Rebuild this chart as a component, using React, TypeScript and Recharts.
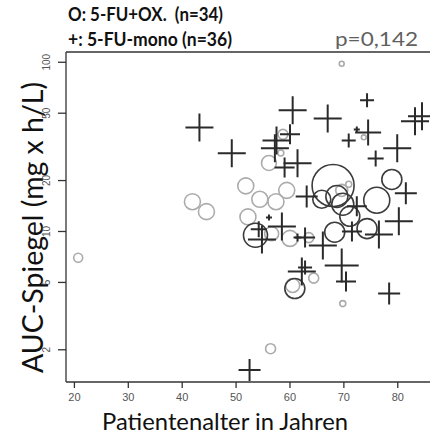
import React from 'react';
import { ScatterChart, Scatter, XAxis, YAxis, ZAxis, ReferenceLine, Customized } from 'recharts';

// 5-FU + OX (circles): age, AUC, bubble value, shade group (0 light, 1 dark)
const oxAge = [69.6, 58.7, 58.3, 56.1, 73.7, 51.8, 41.9, 44.5, 54.4, 57.4, 59.4, 52.2, 56.6, 60.0, 63.5, 64.4, 60.5, 69.8, 56.4, 20.7, 70.9, 69.6,
  68.0, 65.9, 68.7, 69.8, 71.1, 74.3, 68.3, 76.1, 78.9, 53.6, 60.9];
const oxAuc = [98, 37.5, 29.1, 25.4, 36.0, 18.6, 15.0, 13.1, 15.5, 15.0, 17.5, 12.2, 9.7, 9.1, 9.2, 5.3, 4.8, 3.75, 2.03, 7.0, 19.0, 17.5,
  18.7, 15.5, 16.1, 14.5, 12.3, 10.4, 9.9, 15.3, 20.3, 9.5, 4.6];
const oxValue = [6, 25, 9, 56, 6, 64, 64, 64, 64, 64, 64, 64, 49, 64, 25, 25, 49, 9, 25, 20, 9, 36,
  441, 81, 121, 121, 100, 100, 100, 169, 100, 144, 100];
const oxGroup = [0, 0, 0, 0, 0, 0, 0, 0, 0, 0, 0, 0, 0, 0, 0, 0, 0, 0, 0, 0, 0, 0,
  1, 1, 1, 1, 1, 1, 1, 1, 1, 1, 1];

// 5-FU mono (plus signs)
const monoAge = [43.2, 49.2, 60.5, 67.0, 74.3, 83.2, 84.5, 74.5, 72.4, 70.9, 79.9, 75.9, 81.5, 57.5, 57.2, 60.0, 61.4, 59.0, 63.1, 72.4,
  80.2, 76.5, 71.5, 66.1, 62.8, 61.4, 58.5, 56.1, 54.8, 54.2, 69.6, 70.4, 62.2, 62.8, 78.4, 52.5];
const monoAuc = [41.2, 29.0, 52.0, 46.6, 59.6, 44.8, 47.9, 38.5, 40.1, 34.5, 31.0, 27.0, 16.8, 34.5, 31.0, 37.5, 25.3, 23.9, 16.1, 14.1,
  11.5, 9.6, 10.0, 8.26, 9.21, 9.2, 10.7, 12.1, 8.97, 10.3, 6.29, 5.06, 5.8, 6.12, 4.3, 1.52];
const monoValue = [196, 196, 196, 196, 49, 196, 196, 169, 9, 49, 196, 64, 121, 196, 196, 100, 196, 100, 121, 100,
  196, 196, 100, 196, 100, 16, 196, 9, 196, 64, 289, 100, 196, 49, 121, 121];

const xTicks = [20, 30, 40, 50, 60, 70, 80];
const yTicks = [2, 5, 10, 20, 50, 100];

const oxData = oxAge.map((x, i) => ({ x, y: oxAuc[i], z: oxValue[i], g: oxGroup[i] }));
const monoData = monoAge.map((x, i) => ({ x, y: monoAuc[i], z: monoValue[i] }));

const radiusOf = (p: any) => (p.size != null ? Math.sqrt(p.size / Math.PI) : (p.width || 0) / 2);

const CircleShape = (p: any) => {
  const r = radiusOf(p);
  return (
    <circle cx={p.cx} cy={p.cy} r={r} fill="none"
      stroke={p.payload && p.payload.g ? '#3c3c3c' : '#ababab'} strokeWidth={1.6} />
  );
};

const PlusShape = (p: any) => {
  const h = radiusOf(p);
  const { cx, cy } = p;
  return <path d={`M${cx - h},${cy}H${cx + h}M${cx},${cy - h}V${cy + h}`} stroke="#2a2a2a" strokeWidth={2} fill="none" />;
};

const XTick = (p: any) => (
  <text x={p.x} y={p.y + 11} textAnchor="middle" fontFamily="Liberation Sans, Arial, sans-serif" fontSize={11} fill="#555">
    {p.payload.value}
  </text>
);

const YTick = (p: any) => {
  const bx = p.x - 6;
  return (
    <text x={bx} y={p.y} transform={`rotate(-90, ${bx}, ${p.y})`} textAnchor="middle"
      fontFamily="Liberation Sans, Arial, sans-serif" fontSize={10} fill="#555">
      {p.payload.value}
    </text>
  );
};

const Texts = () => (
  <g fontFamily="Lato, 'Open Sans', sans-serif" style={{ whiteSpace: 'pre' }}>
    <text x={68} y={21} fontSize={18} fontWeight="bold" fill="#111" textLength={155} lengthAdjust="spacingAndGlyphs">{'O: 5-FU+OX.\u00a0 (n=34)'}</text>
    <text x={68} y={46} fontSize={18} fontWeight="bold" fill="#111" textLength={164} lengthAdjust="spacingAndGlyphs">+: 5-FU-mono (n=36)</text>
    <text x={418} y={46} fontSize={19} fill="#606060" textAnchor="end" textLength={83} lengthAdjust="spacingAndGlyphs">p=0,142</text>
    <text x={225} y={430} fontSize={23} fill="#111" textAnchor="middle" textLength={246} lengthAdjust="spacingAndGlyphs">Patientenalter in Jahren</text>
    <text x={43} y={227.5} fontSize={28} fill="#111" textAnchor="middle" transform="rotate(-90, 43, 227.5)" textLength={291} lengthAdjust="spacingAndGlyphs">AUC-Spiegel (mg x h/L)</text>
  </g>
);

export default function App() {
  return (
    <div style={{ position: 'absolute', left: 0, top: 0, width: 430, height: 436, overflow: 'hidden', background: '#fff' }}>
      <ScatterChart width={440} height={436} margin={{ top: 52, right: 1.5, bottom: 0, left: 0 }}>
        <XAxis xAxisId="b" type="number" dataKey="x" domain={[18.44, 87.56]} allowDataOverflow ticks={xTicks}
          height={54} tickSize={6} axisLine={{ stroke: '#333', strokeWidth: 1.3 }} tickLine={{ stroke: '#333', strokeWidth: 1.3 }} tick={<XTick />} />
        <YAxis type="number" dataKey="y" scale="log" domain={[1.29, 115]} allowDataOverflow ticks={yTicks} width={66}
          tickSize={8} axisLine={{ stroke: '#333', strokeWidth: 1.3 }} tickLine={{ stroke: '#333', strokeWidth: 1.3 }} tick={<YTick />} />
        <ZAxis type="number" dataKey="z" domain={[0, 500]} range={[0, 500 * Math.PI]} />
        <ReferenceLine xAxisId="b" y={115} stroke="#333" strokeWidth={1.3} ifOverflow="visible" />
        <Scatter xAxisId="b" data={oxData} shape={<CircleShape />} isAnimationActive={false} />
        <Scatter xAxisId="b" data={monoData} shape={<PlusShape />} isAnimationActive={false} />
        <Customized component={Texts} />
      </ScatterChart>
    </div>
  );
}
